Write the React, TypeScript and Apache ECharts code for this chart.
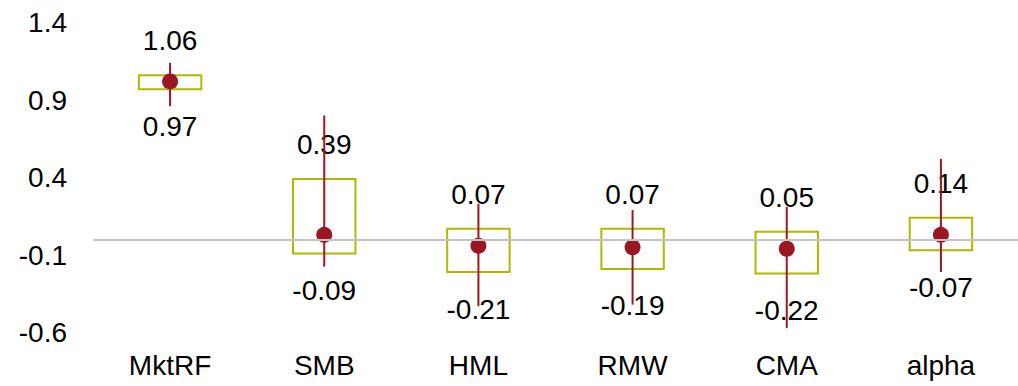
import React, { useEffect, useRef } from "react";
import * as echarts from "echarts";

const categories = ["MktRF", "SMB", "HML", "RMW", "CMA", "alpha"];
const estimates = [1.02, 0.03, -0.04, -0.05, -0.06, 0.03];
const boxLow = [0.97, -0.09, -0.21, -0.19, -0.22, -0.07];
const boxHigh = [1.06, 0.39, 0.07, 0.07, 0.05, 0.14];
const ciLow = [0.86, -0.175, -0.43, -0.42, -0.57, -0.21];
const ciHigh = [1.14, 0.8, 0.23, 0.19, 0.21, 0.52];

const FONT = "'Liberation Sans', Arial, sans-serif";
const FS = 28;
const BOX_COLOR = "#b2b800";
const RED = "#9b1822";

export default function App() {
  const ref = useRef<HTMLDivElement>(null);
  useEffect(() => {
    if (!ref.current) return;
    const chart = echarts.init(ref.current, undefined, { renderer: "svg" });
    const data = categories.map((_, i) => [
      i,
      estimates[i],
      boxLow[i],
      boxHigh[i],
      ciLow[i],
      ciHigh[i],
    ]);
    chart.setOption({
      animation: false,
      grid: { left: 93, top: 22.5, height: 310, width: 933, containLabel: false },
      xAxis: {
        type: "category",
        data: categories,
        boundaryGap: true,
        axisLine: { show: false },
        axisTick: { show: false },
        axisLabel: { fontSize: FS, color: "#000", fontFamily: FONT, margin: 19 },
        splitLine: { show: false },
      },
      yAxis: {
        type: "value",
        min: -0.6,
        max: 1.4,
        interval: 0.5,
        axisLine: { show: false },
        axisTick: { show: false },
        splitLine: { show: false },
        axisLabel: {
          fontSize: FS,
          color: "#000",
          fontFamily: FONT,
          margin: 26,
          padding: [0, 0, 3, 0],
          formatter: (v: number) => String(Math.round(v * 10) / 10),
        },
      },
      series: [
        {
          type: "custom",
          data,
          clip: false,
          markLine: {
            silent: true,
            symbol: "none",
            label: { show: false },
            lineStyle: { color: "#c4c4c4", width: 2, type: "solid" },
            data: [{ yAxis: 0 }],
          },
          renderItem: (params: any, api: any) => {
            const i = api.value(0);
            const est = api.value(1);
            const bl = api.value(2);
            const bh = api.value(3);
            const cl = api.value(4);
            const ch = api.value(5);
            const [x, yEst] = api.coord([i, est]);
            const yBL = api.coord([i, bl])[1];
            const yBH = api.coord([i, bh])[1];
            const yCL = api.coord([i, cl])[1];
            const yCH = api.coord([i, ch])[1];
            const w = api.size([1, 0])[0] * 0.405;
            const txt = (t: string, y: number) => ({
              type: "text",
              x,
              y,
              style: {
                text: t,
                fontSize: FS,
                fontFamily: FONT,
                fill: "#000",
                align: "center",
                verticalAlign: "middle",
              },
            });
            return {
              type: "group",
              children: [
                {
                  type: "rect",
                  shape: { x: x - w / 2, y: yBH, width: w, height: yBL - yBH },
                  style: { fill: "none", stroke: BOX_COLOR, lineWidth: 2 },
                },
                txt(bh.toFixed(2), yBH - 34.5),
                txt(bl.toFixed(2), yBL + 37),
                {
                  type: "line",
                  shape: { x1: x, y1: yCH, x2: x, y2: yCL },
                  style: { stroke: RED, lineWidth: 2 },
                },
                {
                  type: "circle",
                  shape: { cx: x, cy: yEst, r: 8 },
                  style: { fill: RED },
                },
              ],
            };
          },
        },
      ],
    });
    return () => chart.dispose();
  }, []);
  return (
    <div
      ref={ref}
      style={{ position: "absolute", left: 0, top: 0, width: 1018, height: 386 }}
    />
  );
}
